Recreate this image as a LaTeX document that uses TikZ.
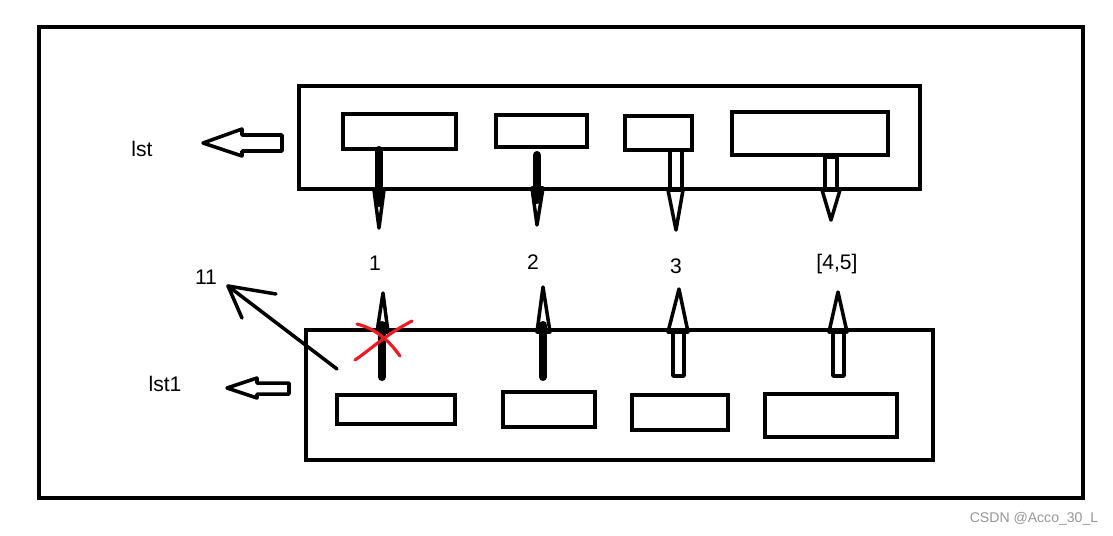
\documentclass[tikz,border=0pt]{standalone}
\usepackage{fontspec}
\setmainfont{Liberation Sans}
\definecolor{paintred}{RGB}{237,28,36}
\definecolor{markgray}{RGB}{150,150,150}

\begin{document}
\begin{tikzpicture}[
	x=0.02cm, y=-0.02cm,
	frame/.style={draw=black, line width=2.3pt},
	cell/.style={draw=black, line width=2.2pt},
	shaft/.style={draw=black, line width=4.6pt, line cap=round},
	head/.style={draw=black, line width=2pt, line join=round},
	block arrow/.style={draw=black, line width=2pt, line join=round},
	label/.style={font=\fontsize{12}{14}\selectfont, inner sep=0pt},
	cross/.style={draw=paintred, line width=1.8pt, line cap=round}
	]
	
	\useasboundingbox (0,0) rectangle (1113,535);
	
	% --- OUTER FRAME ---
	\draw[frame] (39,27) rectangle (1083,498);
	
	% --- UPPER LIST: lst ---
	\draw[frame] (299,86) rectangle (920,189);
	\draw[cell] (343,114) rectangle (456,149);
	\draw[cell] (496,115) rectangle (587,147);
	\draw[cell] (625,116) rectangle (692,150);
	\draw[cell] (732,112) rectangle (888,155);
	
	\node[label] (lst) at (142,149) {lst};
	\draw[block arrow] (282,135) -- (242,135) -- (242,129) -- (203,143)
		-- (242,156) -- (242,151) -- (282,151) -- cycle;
	
	% Down arrows (solid)
	\draw[shaft] (379,150) -- (379,203);
	\draw[head] (374,190) -- (379,228) -- (384,190) -- cycle;
	\draw[shaft] (537,155) -- (537,200);
	\draw[head] (532,188) -- (537,225) -- (543,188) -- cycle;
	
	% Down arrows (hollow)
	\draw[block arrow] (670,150) rectangle (682,190);
	\draw[head] (668,190) -- (676,230) -- (683,190) -- cycle;
	\draw[block arrow] (825,157) rectangle (837,190);
	\draw[head] (822,190) -- (831,220) -- (840,190) -- cycle;
	
	% --- VALUES ---
	\node[label] (v1) at (375,263) {1};
	\node[label] (v2) at (533,262) {2};
	\node[label] (v3) at (676,266) {3};
	\node[label] (v45) at (837,264) {[4,5]};
	\node[label] (v11) at (206,277) {11};
	
	% --- LOWER LIST: lst1 ---
	\draw[frame] (306,330) rectangle (933,460);
	\draw[cell] (337,395) rectangle (455,424);
	\draw[cell] (503,392) rectangle (595,427);
	\draw[cell] (632,395) rectangle (728,430);
	\draw[cell] (765,394) rectangle (897,437);
	
	\node[label] (lst1) at (165,384) {lst1};
	\draw[block arrow] (289,383) -- (257,383) -- (257,378) -- (227,388)
		-- (257,398) -- (257,394) -- (289,394) -- cycle;
	
	% Up arrows (solid)
	\draw[shaft] (382,377) -- (382,325);
	\draw[head] (377,332) -- (383,293) -- (388,332) -- cycle;
	\draw[shaft] (543,377) -- (543,325);
	\draw[head] (537,332) -- (543,287) -- (550,332) -- cycle;
	
	% Up arrows (hollow)
	\draw[block arrow] (673,332) rectangle (684,376);
	\draw[head] (668,332) -- (679,289) -- (688,332) -- cycle;
	\draw[block arrow] (833,332) rectangle (844,376);
	\draw[head] (829,332) -- (838,292) -- (847,332) -- cycle;
	
	% Crossed-out link
	\draw[cross] (357,324) .. controls (380,330) and (392,345) .. (400,356);
	\draw[cross] (412,321) .. controls (385,335) and (370,350) .. (355,360);
	
	% New link to 11
	\coordinate (tail) at (337,369);
	\coordinate (tip) at (228,286);
	\draw[line width=2pt, line cap=round] (tail) -- (tip);
	\draw[line width=2pt, line cap=round, line join=round] (276,294) -- (tip) -- (242,318);
	
	% Watermark
	\node[font=\fontsize{8}{10}\selectfont, text=markgray, inner sep=0pt] (mark) at (1034,519) {CSDN @Acco\_30\_L};
	
\end{tikzpicture}
\end{document}
